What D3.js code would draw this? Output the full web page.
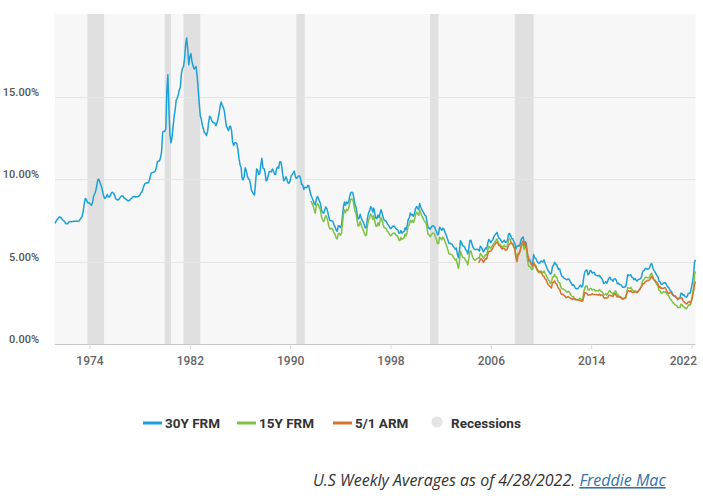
<!DOCTYPE html>
<html>
<head>
<meta charset="utf-8">
<script src="https://cdn.jsdelivr.net/npm/d3@7"></script>
<style>
  html, body { margin: 0; padding: 0; background: #fff; }
  svg { display: block; }
</style>
</head>
<body>
<svg id="chart" width="703" height="500"></svg>
<script>
// ---------- DATA (monthly averages, %) ----------
const frm30Start = [1971, 4];
const frm30 = [
  7.31,7.43,7.53,7.60,7.70,7.69,7.63,7.55,7.48,
  7.44,7.32,7.29,7.29,7.37,7.41,7.43,7.40,7.42,7.44,7.44,7.44,
  7.44,7.44,7.46,7.54,7.65,7.73,8.05,8.50,8.82,8.77,8.58,8.54,
  8.54,8.46,8.41,8.58,8.97,9.09,9.28,9.59,9.96,9.98,9.79,9.62,
  9.43,9.10,8.89,8.82,8.91,9.06,8.93,8.90,9.00,9.16,9.20,9.14,
  9.02,8.81,8.76,8.73,8.76,8.85,8.93,8.97,8.97,8.86,8.81,8.76,
  8.72,8.67,8.69,8.75,8.82,8.86,8.94,8.94,8.90,8.92,8.92,8.96,
  9.01,9.15,9.20,9.36,9.57,9.71,9.74,9.78,9.76,9.86,10.11,10.35,
  10.39,10.41,10.43,10.50,10.69,11.04,11.09,11.09,11.30,11.64,12.83,12.90,
  12.88,13.04,15.28,16.32,14.26,12.71,12.19,12.56,13.20,13.79,14.21,14.79,
  14.90,15.13,15.40,15.58,16.40,16.70,16.83,17.29,18.16,18.55,17.83,16.92,
  17.40,17.60,17.16,16.89,16.68,16.70,16.82,16.27,15.43,14.61,13.83,13.62,
  13.25,13.04,12.80,12.78,12.63,12.87,13.42,13.81,13.73,13.54,13.44,13.42,
  13.37,13.23,13.39,13.65,13.94,14.42,14.67,14.47,14.35,14.13,13.64,13.18,
  13.08,12.92,13.17,13.20,12.91,12.22,12.03,12.19,12.19,12.14,11.78,11.26,
  10.88,10.71,10.08,9.94,10.14,10.68,10.51,10.20,10.01,9.97,9.70,9.31,
  9.20,9.08,9.04,9.83,10.60,10.54,10.28,10.33,10.89,11.26,10.65,10.64,
  10.38,9.89,9.93,10.20,10.46,10.46,10.43,10.60,10.48,10.30,10.27,10.61,
  10.73,10.65,11.03,11.05,10.77,10.20,9.88,9.99,10.13,9.95,9.77,9.74,
  9.90,10.20,10.27,10.37,10.48,10.16,10.04,10.10,10.18,10.18,10.01,9.67,
  9.64,9.37,9.50,9.49,9.47,9.62,9.58,9.24,9.01,8.86,8.71,8.50,
  8.43,8.76,8.94,8.85,8.67,8.51,8.13,7.98,7.92,8.09,8.31,8.22,
  7.99,7.68,7.50,7.47,7.47,7.42,7.21,7.11,6.91,6.83,7.16,7.17,
  7.06,7.15,7.68,8.32,8.60,8.40,8.61,8.51,8.64,8.93,9.17,9.20,
  9.15,8.83,8.46,8.32,7.96,7.57,7.61,7.86,7.64,7.48,7.38,7.20,
  7.03,7.08,7.62,7.93,8.07,8.32,8.25,8.00,8.23,7.92,7.62,7.60,
  7.82,7.65,7.90,8.14,7.94,7.69,7.50,7.48,7.43,7.29,7.21,7.10,
  6.99,7.04,7.13,7.14,7.14,7.00,6.95,6.92,6.72,6.71,6.87,6.72,
  6.79,6.81,7.04,6.92,7.15,7.55,7.63,7.94,7.82,7.85,7.74,7.91,
  8.21,8.33,8.24,8.15,8.52,8.29,8.15,8.03,7.91,7.80,7.75,7.38,
  7.03,7.05,6.95,7.08,7.15,7.16,7.13,6.95,6.82,6.62,6.66,7.07,
  7.00,6.89,7.01,6.99,6.81,6.65,6.49,6.29,6.09,6.11,6.07,6.05,
  5.92,5.84,5.75,5.81,5.48,5.23,5.63,6.26,6.15,5.95,5.93,5.88,
  5.71,5.64,5.45,5.83,6.27,6.29,6.06,5.87,5.75,5.72,5.73,5.75,
  5.71,5.63,5.93,5.86,5.72,5.58,5.70,5.82,5.77,6.07,6.33,6.27,
  6.15,6.25,6.32,6.51,6.60,6.68,6.76,6.52,6.40,6.36,6.24,6.14,
  6.22,6.29,6.16,6.18,6.26,6.66,6.70,6.57,6.38,6.38,6.21,6.10,
  5.76,5.92,5.97,5.92,6.04,6.32,6.43,6.48,6.04,6.20,6.09,5.33,
  5.06,5.13,5.00,4.81,4.86,5.42,5.22,5.19,5.06,4.95,4.88,4.93,
  5.03,4.99,4.97,5.10,4.89,4.74,4.56,4.43,4.35,4.23,4.30,4.71,
  4.76,4.95,4.84,4.84,4.64,4.51,4.55,4.27,4.11,4.07,3.99,3.96,
  3.92,3.89,3.95,3.91,3.80,3.68,3.55,3.60,3.50,3.38,3.35,3.35,
  3.41,3.53,3.57,3.45,3.54,4.07,4.37,4.46,4.49,4.19,4.26,4.46,
  4.43,4.30,4.34,4.34,4.19,4.16,4.13,4.12,4.16,4.04,4.00,3.86,
  3.67,3.71,3.77,3.67,3.84,3.98,4.05,3.91,3.89,3.80,3.94,3.96,
  3.87,3.66,3.69,3.61,3.60,3.57,3.44,3.44,3.46,3.47,3.77,4.20,
  4.15,4.17,4.20,4.05,4.01,3.90,3.97,3.88,3.81,3.90,3.92,3.95,
  4.03,4.33,4.44,4.47,4.59,4.57,4.53,4.55,4.63,4.83,4.87,4.64,
  4.46,4.37,4.27,4.14,4.07,3.80,3.77,3.62,3.61,3.69,3.70,3.72,
  3.62,3.47,3.45,3.31,3.23,3.16,3.02,2.94,2.89,2.83,2.77,2.68,
  2.74,2.81,3.08,3.06,2.96,2.98,2.87,2.84,2.90,3.07,3.07,3.10,
  3.45,3.76,4.17,4.98
];
const frm15Start = [1991, 9];
const frm15 = [
  8.67,8.52,8.37,8.13,
  7.93,8.32,8.50,8.45,8.28,8.11,7.72,7.53,7.41,7.57,7.79,7.69,
  7.45,7.14,6.99,6.98,7.00,6.91,6.73,6.63,6.43,6.36,6.69,6.71,
  6.59,6.69,7.21,7.86,8.14,7.96,8.17,8.09,8.24,8.53,8.76,8.80,
  8.73,8.42,8.05,7.92,7.55,7.15,7.18,7.42,7.20,7.03,6.90,6.72,
  6.56,6.61,7.17,7.49,7.63,7.88,7.81,7.54,7.77,7.46,7.15,7.14,
  7.35,7.17,7.44,7.69,7.49,7.24,7.05,7.02,6.97,6.84,6.77,6.66,
  6.56,6.59,6.70,6.71,6.73,6.61,6.57,6.53,6.30,6.26,6.45,6.33,
  6.40,6.44,6.67,6.55,6.78,7.17,7.21,7.50,7.39,7.48,7.36,7.54,
  7.84,7.99,7.89,7.79,8.13,7.92,7.78,7.64,7.51,7.41,7.34,6.99,
  6.64,6.61,6.50,6.61,6.71,6.72,6.68,6.49,6.33,6.08,6.09,6.47,
  6.42,6.31,6.47,6.43,6.23,6.07,5.90,5.69,5.46,5.46,5.43,5.40,
  5.28,5.19,5.09,5.15,4.86,4.58,4.96,5.61,5.43,5.25,5.24,5.20,
  5.05,4.98,4.79,5.17,5.63,5.64,5.40,5.21,5.11,5.07,5.12,5.17,
  5.23,5.20,5.48,5.42,5.30,5.20,5.31,5.42,5.38,5.66,5.92,5.89,
  5.79,5.91,5.98,6.10,6.18,6.29,6.37,6.15,6.06,6.03,5.93,5.84,
  5.93,5.99,5.89,5.90,5.95,6.32,6.37,6.26,6.08,6.07,5.88,5.76,
  5.28,5.38,5.48,5.44,5.58,5.89,6.00,6.06,5.73,5.97,5.86,5.15,
  4.75,4.69,4.66,4.52,4.52,4.89,4.80,4.77,4.51,4.40,4.34,4.34,
  4.42,4.37,4.32,4.42,4.27,4.17,4.02,3.90,3.83,3.67,3.72,4.06,
  4.06,4.22,4.07,4.08,3.87,3.73,3.71,3.46,3.35,3.33,3.30,3.26,
  3.20,3.14,3.20,3.16,3.06,2.95,2.86,2.86,2.77,2.67,2.66,2.66,
  2.71,2.77,2.75,2.65,2.72,3.18,3.41,3.51,3.52,3.29,3.27,3.36,
  3.37,3.27,3.31,3.31,3.21,3.23,3.22,3.23,3.30,3.22,3.18,3.11,
  2.98,2.99,3.05,2.96,3.06,3.18,3.23,3.13,3.09,3.00,3.14,3.21,
  3.17,2.96,2.98,2.88,2.86,2.84,2.74,2.75,2.75,2.77,3.04,3.42,
  3.39,3.38,3.44,3.31,3.25,3.17,3.22,3.17,3.10,3.21,3.28,3.38,
  3.50,3.78,3.88,3.93,4.05,4.04,4.02,4.01,4.08,4.23,4.28,4.09,
  3.89,3.81,3.71,3.60,3.53,3.25,3.22,3.09,3.09,3.16,3.15,3.16,
  3.10,2.97,2.95,2.80,2.70,2.63,2.54,2.48,2.39,2.35,2.33,2.21,
  2.21,2.21,2.42,2.38,2.29,2.24,2.17,2.13,2.21,2.35,2.38,2.37,
  2.62,3.03,3.39,4.17
];
const arm51Start = [2005, 1];
const arm51 = [
  4.94,4.98,5.13,5.17,5.07,4.95,5.07,5.18,5.15,5.40,5.61,5.62,
  5.64,5.73,5.81,5.96,6.04,6.13,6.18,6.05,5.96,5.95,5.82,5.75,
  5.81,5.81,5.68,5.69,5.78,6.00,6.05,6.13,6.11,6.07,5.86,5.78,
  5.25,4.98,5.35,5.53,5.62,5.95,6.12,6.25,5.98,6.19,5.82,5.52,
  5.21,5.00,4.98,4.78,4.70,4.96,4.79,4.68,4.56,4.47,4.40,4.39,
  4.32,4.24,4.12,4.09,3.94,3.89,3.72,3.59,3.52,3.47,3.39,3.71,
  3.73,3.83,3.67,3.65,3.48,3.35,3.31,3.08,3.00,3.02,2.95,2.90,
  2.81,2.83,2.88,2.83,2.78,2.74,2.70,2.74,2.74,2.71,2.69,2.68,
  2.66,2.66,2.62,2.59,2.60,2.86,3.12,3.07,3.07,2.96,2.97,2.98,
  2.98,3.05,3.00,3.00,2.98,2.99,2.98,2.96,3.03,2.94,2.98,2.95,
  2.82,2.77,2.80,2.79,2.81,2.95,2.96,2.92,2.91,2.88,3.01,3.07,
  2.95,2.85,2.87,2.84,2.84,2.77,2.71,2.76,2.80,2.83,3.07,3.20,
  3.23,3.17,3.24,3.14,3.12,3.12,3.18,3.15,3.13,3.20,3.26,3.35,
  3.46,3.62,3.65,3.66,3.79,3.80,3.86,3.85,3.90,3.98,4.10,3.99,
  3.90,3.87,3.78,3.72,3.63,3.44,3.47,3.36,3.38,3.36,3.41,3.41,
  3.27,3.14,3.05,3.10,3.14,3.07,2.96,2.91,2.93,2.89,2.79,2.73,
  2.78,2.76,2.80,2.80,2.60,2.56,2.48,2.42,2.46,2.56,2.56,2.49,
  2.63,2.88,3.19,3.57
];
// final weekly reading (4/28/2022)
const lastDate = "2022-04-28";
const lastValues = [5.10, 4.40, 3.78]; // 30Y, 15Y, 5/1 ARM

const seriesNames = ["30Y FRM", "15Y FRM", "5/1 ARM"];
const seriesColors = ["#1ba1d8", "#7dc243", "#d8722c"];
const recessionStarts = ["1973-11-01", "1980-01-01", "1981-07-01", "1990-07-01", "2001-03-01", "2007-12-01"];
const recessionEnds   = ["1975-03-01", "1980-07-01", "1982-11-01", "1991-03-01", "2001-11-01", "2009-06-01"];
const xTickYears = [1974, 1982, 1990, 1998, 2006, 2014, 2022];
const yTicks = [0, 5, 10, 15];

// ---------- CHART ----------
(function () {
const svg = d3.select("#chart");
const pLeft = 55, pRight = 695.5, pTop = 14, pBottom = 344;
const parse = d3.timeParse("%Y-%m-%d");

const x = d3.scaleTime()
  .domain([new Date(1971, 3, 2), parse(lastDate)])
  .range([pLeft, pRight]);
const y = d3.scaleLinear().domain([0, 20]).range([pBottom, pTop]);

function build(startYM, vals, last) {
  const pts = vals.map((v, i) => ({ d: new Date(startYM[0], startYM[1] - 1 + i, 1), v }));
  pts[0].d = d3.max([pts[0].d, x.domain()[0]]);
  pts.push({ d: parse(lastDate), v: last });
  return pts;
}
const series = [
  build(frm30Start, frm30, lastValues[0]),
  build(frm15Start, frm15, lastValues[1]),
  build(arm51Start, arm51, lastValues[2])
];

// plot background
svg.append("rect").attr("x", pLeft).attr("y", pTop)
  .attr("width", pRight - pLeft).attr("height", pBottom - pTop)
  .attr("fill", "#f7f7f7");

// recessions
svg.append("g").selectAll("rect")
  .data(recessionStarts.map((s, i) => [parse(s), parse(recessionEnds[i])]))
  .join("rect")
  .attr("x", d => x(d[0]))
  .attr("width", d => x(d[1]) - x(d[0]))
  .attr("y", pTop).attr("height", pBottom - pTop)
  .attr("fill", "#e0e0e0");

// gridlines
svg.append("g").selectAll("line")
  .data(yTicks.filter(t => t > 0))
  .join("line")
  .attr("x1", pLeft).attr("x2", pRight)
  .attr("y1", d => Math.round(y(d)) + 0.5).attr("y2", d => Math.round(y(d)) + 0.5)
  .attr("stroke", "#e4e4e4").attr("stroke-width", 1);

// y labels
svg.append("g").selectAll("text")
  .data(yTicks)
  .join("text")
  .attr("x", 39).attr("y", d => y(d) - 1)
  .attr("text-anchor", "end")
  .attr("font-family", "Roboto, sans-serif")
  .attr("font-size", 11).attr("font-weight", 500)
  .attr("fill", "#555")
  .text(d => d.toFixed(2) + "%");

// x axis
const xAxis = d3.axisBottom(x)
  .tickValues(xTickYears.map(yy => new Date(yy, 0, 1)))
  .tickFormat(d3.timeFormat("%Y"))
  .tickSize(5).tickPadding(7);
const gx = svg.append("g").attr("transform", `translate(0,${pBottom})`).call(xAxis);
gx.select(".domain").attr("stroke", "#c6c6c6").attr("d", `M${pLeft},0.5H${pRight}`);
gx.selectAll(".tick line").attr("stroke", "#d6d6d6");
gx.selectAll(".tick text")
  .attr("font-family", "Roboto, sans-serif").attr("font-size", 12)
  .attr("font-weight", 500).attr("fill", "#666");
// keep the last label inside the picture
gx.selectAll(".tick text")
  .filter(d => d.getFullYear() === xTickYears[xTickYears.length - 1])
  .attr("text-anchor", "end").attr("dx", 5);

// lines
const line = d3.line().x(d => x(d.d)).y(d => y(d.v)).curve(d3.curveLinear);
svg.append("g").selectAll("path")
  .data(series)
  .join("path")
  .attr("d", line)
  .attr("fill", "none")
  .attr("stroke", (d, i) => seriesColors[i])
  .attr("stroke-width", 1.5)
  .attr("stroke-linejoin", "round");

// legend
const legend = svg.append("g").attr("font-family", "Roboto, sans-serif")
  .attr("font-size", 13.5).attr("font-weight", 700).attr("fill", "#333");
const legendX = [143, 237, 333];
seriesNames.forEach((n, i) => {
  legend.append("line").attr("x1", legendX[i]).attr("x2", legendX[i] + 19)
    .attr("y1", 423).attr("y2", 423)
    .attr("stroke", seriesColors[i]).attr("stroke-width", 3);
  legend.append("text").attr("x", legendX[i] + 22).attr("y", 428).text(n);
});
legend.append("circle").attr("cx", 437).attr("cy", 422).attr("r", 5.5).attr("fill", "#e4e4e4");
legend.append("text").attr("x", 451).attr("y", 428).text("Recessions");

// caption
const cap = svg.append("text").attr("x", 313).attr("y", 486)
  .attr("font-family", "'Open Sans', sans-serif").attr("font-style", "italic")
  .attr("font-size", 16).attr("fill", "#333");
cap.append("tspan").text("U.S Weekly Averages as of 4/28/2022. ");
cap.append("tspan").attr("fill", "#3672a8").attr("text-decoration", "underline").text("Freddie Mac");
})();
</script>
</body>
</html>
